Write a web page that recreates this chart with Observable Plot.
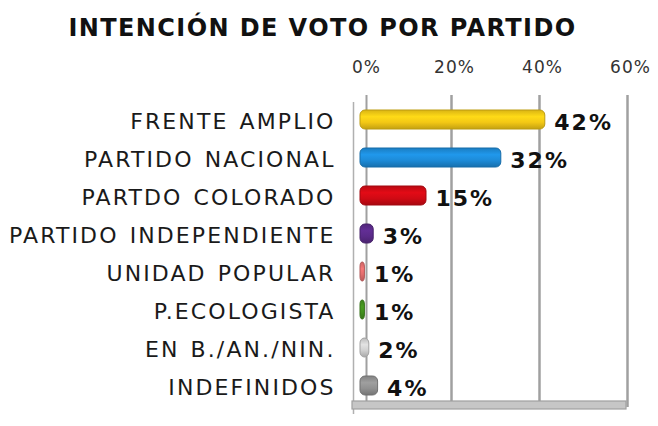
<!DOCTYPE html>
<html>
<head>
<meta charset="utf-8">
<script src="https://cdn.jsdelivr.net/npm/d3@7"></script>
<script src="https://cdn.jsdelivr.net/npm/@observablehq/plot@0.6"></script>
<style>
  html, body { margin: 0; padding: 0; background: #fff; }
  #title {
    width: 658px; height: 48px; box-sizing: border-box;
    padding-right: 13px; padding-top: 13px;
    text-align: center; font-family: "DejaVu Sans", sans-serif;
    font-weight: bold; font-size: 24px; letter-spacing: 1.4px; color: #111;
    line-height: 30px;
  }
  #chart svg { display: block; overflow: visible; }
</style>
</head>
<body>
<div id="title">INTENCIÓN DE VOTO POR PARTIDO</div>
<div id="chart"></div>
<script>
const parties = ["FRENTE AMPLIO", "PARTIDO NACIONAL", "PARTDO COLORADO", "PARTIDO INDEPENDIENTE",
                 "UNIDAD POPULAR", "P.ECOLOGISTA", "EN B./AN./NIN.", "INDEFINIDOS"];
const values = [42, 32, 15, 3, 1, 1, 2, 4];
const tickValues = [0, 20, 40, 60];
const colors = ["#f3c815", "#1d8bd8", "#d00a14", "#5a2a88", "#e26e6e", "#43901e", "#d0d0d0", "#919191"];

const data = parties.map((p, i) => ({
  party: p,
  value: values[i],
  fill: `url(#grad${i})`,
  stroke: d3.color(colors[i]).darker(0.7).formatHex()
}));

const plot = Plot.plot({
  width: 658, height: 378,
  marginLeft: 360, marginRight: 34, marginTop: 47, marginBottom: 19,
  style: { fontFamily: "DejaVu Sans, sans-serif", background: "#fff" },
  x: { domain: [0, 60], axis: null },
  y: { domain: parties, axis: null, range: [50, 359], paddingInner: 0.5, paddingOuter: 0.25 },
  color: { type: "identity" },
  marks: [
    Plot.ruleX(tickValues.slice(1), { dx: 3, stroke: "#a0a0a0", strokeWidth: 2.5, strokeOpacity: 1 }),
    Plot.ruleX([0], { dx: 6, stroke: "#a0a0a0", strokeWidth: 2, strokeOpacity: 1 }),
    Plot.ruleX([0], { dx: -7, dy: 7, stroke: "#b0b0b0", strokeWidth: 1.5, strokeOpacity: 1 }),
    Plot.barX([parties[parties.length - 1]], { x1: 0, x2: 60, y: d => d, insetLeft: -8, insetRight: -2,
      insetTop: 25, insetBottom: -14, fill: "#c6c6c6", stroke: "#a0a0a0", strokeWidth: 1.2 }),
    Plot.barX(data, { x: "value", y: "party", fill: "fill", stroke: "stroke", strokeWidth: 1, rx: 5 }),
    Plot.text(data, { x: "value", y: "party", text: d => d.value + "%", textAnchor: "start", dx: 9, dy: 3,
                      fontWeight: "bold", fontSize: 22, fill: "#111" }),
    Plot.text(data, { x: 0, y: "party", text: "party", textAnchor: "end", dx: -25, dy: 2, fontSize: 22, fill: "#1a1a1a" }),
    Plot.text(tickValues, { x: d => d, text: d => d + "%", frameAnchor: "top", lineAnchor: "middle",
                            dy: -28, dx: 6, fontSize: 17, fill: "#333" })
  ]
});

// gradients for cylinder look
const svg = d3.select(plot);
const defs = svg.insert("defs", ":first-child");
colors.forEach((c, i) => {
  const base = d3.color(c);
  const g = defs.append("linearGradient").attr("id", `grad${i}`)
    .attr("x1", 0).attr("y1", 0).attr("x2", 0).attr("y2", 1);
  g.append("stop").attr("offset", "0%").attr("stop-color", base.darker(0.3).formatHex());
  g.append("stop").attr("offset", "35%").attr("stop-color", base.brighter(0.25).formatHex());
  g.append("stop").attr("offset", "65%").attr("stop-color", base.formatHex());
  g.append("stop").attr("offset", "100%").attr("stop-color", base.darker(0.6).formatHex());
});

const textGroups = plot.querySelectorAll('g[aria-label="text"]');
if (textGroups[0]) textGroups[0].style.letterSpacing = "2px";
if (textGroups[1]) { textGroups[1].style.letterSpacing = "2.1px"; textGroups[1].style.wordSpacing = "2px"; }
if (textGroups[2]) textGroups[2].style.letterSpacing = "1px";

document.getElementById("chart").appendChild(plot);
</script>
</body>
</html>
